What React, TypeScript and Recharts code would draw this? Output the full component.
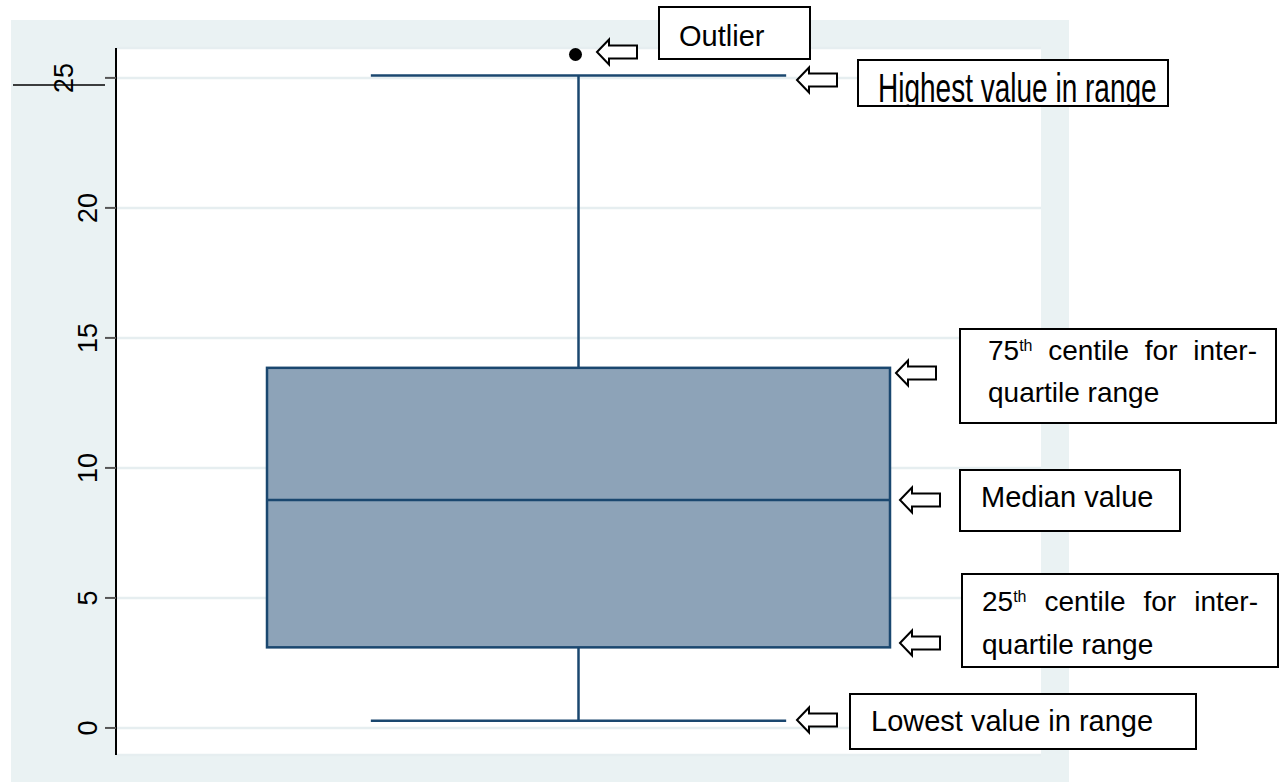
import { ComposedChart, Bar, Scatter, XAxis, YAxis, CartesianGrid } from 'recharts';

// box plot summary
const categories = ['values'];
const lowValues = [0.28];
const q1Values = [3.1];
const medianValues = [8.77];
const q3Values = [13.85];
const highValues = [25.09];
const outlierValues = [25.9];
const yTicks = [0, 5, 10, 15, 20, 25];

const data = categories.map((name, i) => ({
  name,
  low: lowValues[i],
  q1: q1Values[i],
  median: medianValues[i],
  q3: q3Values[i],
  high: highValues[i],
  outlier: outlierValues[i]
}));

const NAVY = '#1a476f';
const FONT = '"Liberation Sans", Arial, sans-serif';

function BoxShape(props: any) {
  const { x, y, width, height, payload } = props;
  const top = Math.min(y, y + height);
  const bottom = Math.max(y, y + height);
  const k = (bottom - top) / (payload.high - payload.low);
  const toY = (v: number) => bottom - (v - payload.low) * k;
  const cx = x + width / 2;
  const capHalf = width / 3;
  const yq1 = toY(payload.q1);
  const yq3 = toY(payload.q3);
  const ymed = toY(payload.median);
  return (
    <g>
      <line x1={cx} x2={cx} y1={top} y2={yq3} stroke={NAVY} strokeWidth={2.5} />
      <line x1={cx} x2={cx} y1={yq1} y2={bottom} stroke={NAVY} strokeWidth={2.5} />
      <line x1={cx - capHalf} x2={cx + capHalf} y1={top} y2={top} stroke={NAVY} strokeWidth={2.5} />
      <line x1={cx - capHalf} x2={cx + capHalf} y1={bottom} y2={bottom} stroke={NAVY} strokeWidth={2.5} />
      <rect x={x} y={yq3} width={width} height={yq1 - yq3} fill="#8da3b8" stroke={NAVY} strokeWidth={2.5} />
      <line x1={x} x2={x + width} y1={ymed} y2={ymed} stroke={NAVY} strokeWidth={2.5} />
    </g>
  );
}

function YTick(props: any) {
  const { y, payload } = props;
  const bx = payload.value === 25 ? 73 : 97;
  return (
    <text
      x={bx}
      y={y}
      transform={`rotate(-90 ${bx} ${y})`}
      textAnchor="middle"
      fontSize={27}
      fontFamily={FONT}
      fill="#000"
    >
      {payload.value}
    </text>
  );
}

function Note({ left, top, width, height, children }: any) {
  return (
    <div
      style={{
        position: 'absolute',
        left,
        top,
        width,
        height,
        boxSizing: 'border-box',
        border: '2px solid #000',
        background: '#fff',
        overflow: 'hidden'
      }}
    >
      {children}
    </div>
  );
}

const lineStyle = (left: number, top: number, lh: number, fs: number, extra: any = {}) => ({
  position: 'absolute' as const,
  left,
  top,
  fontSize: fs,
  lineHeight: `${lh}px`,
  whiteSpace: 'nowrap' as const,
  color: '#000',
  ...extra
});

const Sup = () => (
  <span style={{ fontSize: 16, position: 'relative', top: -9 }}>th</span>
);

const arrows = [
  [597, 52],
  [797, 80],
  [896, 373],
  [900, 500],
  [900, 643],
  [797, 720]
];

function arrowPath(x0: number, cy: number) {
  return `M${x0} ${cy} L${x0 + 12} ${cy - 12.5} L${x0 + 12} ${cy - 6.5} L${x0 + 40} ${cy - 6.5} L${x0 + 40} ${cy + 6.5} L${x0 + 12} ${cy + 6.5} L${x0 + 12} ${cy + 12.5} Z`;
}

export default function App() {
  return (
    <div
      style={{
        position: 'absolute',
        left: 0,
        top: 0,
        width: 1282,
        height: 782,
        background: '#fff',
        fontFamily: FONT,
        overflow: 'hidden'
      }}
    >
      <div style={{ position: 'absolute', left: 11, top: 20, width: 1058, height: 762, background: '#eaf2f3' }} />
      <div style={{ position: 'absolute', left: 0, top: 0 }}>
        <ComposedChart
          width={1282}
          height={782}
          data={data}
          margin={{ top: 48, right: 241, bottom: 27, left: 16 }}
        >
          <CartesianGrid vertical={false} fill="#fff" stroke="#e6eef0" strokeWidth={2.5} />
          <XAxis dataKey="name" type="category" hide />
          <YAxis
            type="number"
            domain={[-1.04, 26.15]}
            ticks={yTicks}
            allowDataOverflow
            width={100}
            tickSize={11}
            axisLine={{ stroke: '#000', strokeWidth: 2 }}
            tickLine={{ stroke: '#555', strokeWidth: 2 }}
            tick={<YTick />}
          />
          <Bar
            dataKey={(d: any) => [d.low, d.high]}
            barSize={623}
            shape={<BoxShape />}
            isAnimationActive={false}
          />
          <Scatter
            dataKey="outlier"
            isAnimationActive={false}
            shape={(p: any) => <circle cx={p.cx - 3} cy={p.cy} r={6.5} fill="#000" />}
          />
        </ComposedChart>
      </div>
      <svg
        width={1282}
        height={782}
        style={{ position: 'absolute', left: 0, top: 0, pointerEvents: 'none' }}
      >
        <line x1={13} x2={105} y1={85} y2={85} stroke="#000" strokeWidth={1.5} />
        {arrows.map(([x0, cy], i) => (
          <path key={i} d={arrowPath(x0, cy)} fill="#fff" stroke="#000" strokeWidth={2} />
        ))}
      </svg>

      <Note left={658} top={6} width={153} height={54}>
        <div style={lineStyle(19, 13.5, 29, 29)}>Outlier</div>
      </Note>
      <Note left={857} top={59} width={312} height={48}>
        <div style={lineStyle(19, 18.3, 28, 28, { transform: 'scaleY(1.45)', transformOrigin: '0 23.7px' })}>
          Highest value in range
        </div>
      </Note>
      <Note left={959} top={328} width={318} height={96}>
        <div style={lineStyle(27, 2.3, 38, 28, { width: 269, whiteSpace: 'normal' })}>
          <div style={{ textAlign: 'justify', textAlignLast: 'justify' }}>
            75<Sup /> centile for inter-
          </div>
          <div>quartile range</div>
        </div>
      </Note>
      <Note left={959} top={469} width={222} height={63}>
        <div style={lineStyle(20, 11.5, 29, 29)}>Median value</div>
      </Note>
      <Note left={961} top={573} width={318} height={95}>
        <div style={lineStyle(19, 6.8, 39, 28, { width: 276, whiteSpace: 'normal' })}>
          <div style={{ textAlign: 'justify', textAlignLast: 'justify' }}>
            25<Sup /> centile for inter-
          </div>
          <div>quartile range</div>
        </div>
      </Note>
      <Note left={849} top={693} width={348} height={57}>
        <div style={lineStyle(20, 11.5, 29, 29)}>Lowest value in range</div>
      </Note>
    </div>
  );
}
